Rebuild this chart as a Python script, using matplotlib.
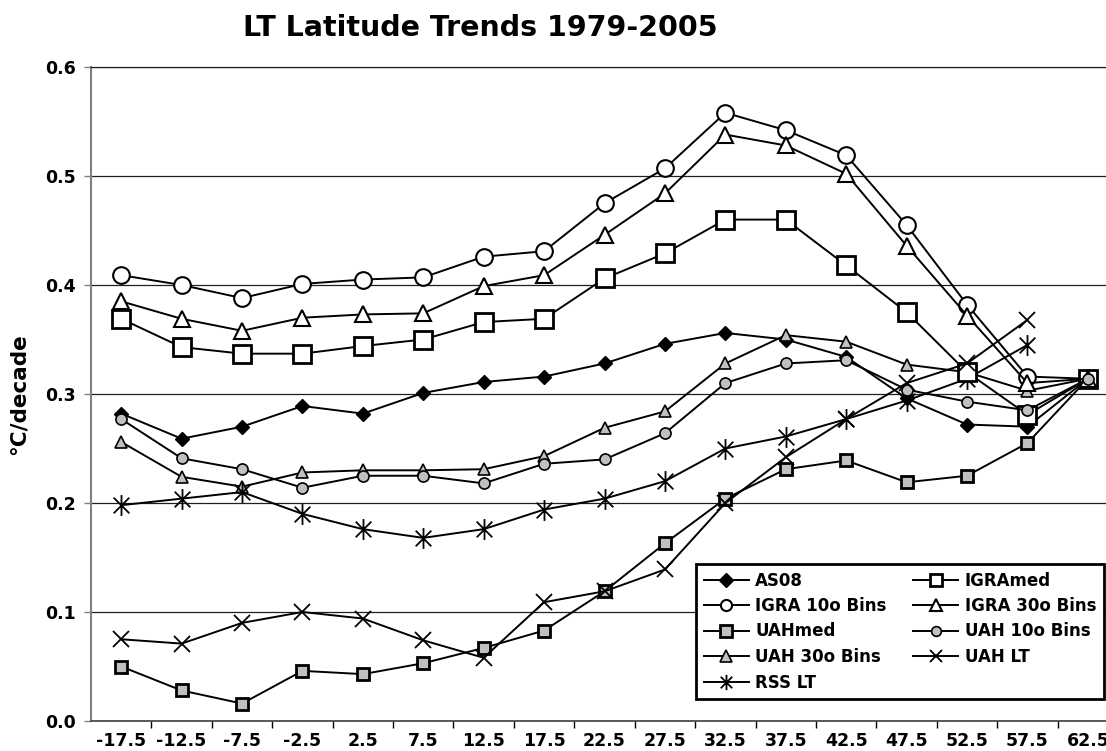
import numpy as np
import matplotlib
matplotlib.use("Agg")
import matplotlib.pyplot as plt
from matplotlib.path import Path

nan = np.nan

# latitude band centres (deg)
lat = [-17.5, -12.5, -7.5, -2.5, 2.5, 7.5, 12.5, 17.5, 22.5, 27.5,
       32.5, 37.5, 42.5, 47.5, 52.5, 57.5, 62.5]
lat_labels = ["-17.5", "-12.5", "-7.5", "-2.5", "2.5", "7.5", "12.5", "17.5", "22.5",
              "27.5", "32.5", "37.5", "42.5", "47.5", "52.5", "57.5", "62.5"]

as08 = [0.282, 0.259, 0.270, 0.289, 0.282, 0.301, 0.311, 0.316, 0.328, 0.346,
        0.356, 0.350, 0.334, 0.296, 0.272, 0.270, 0.314]
igra_med = [0.369, 0.343, 0.337, 0.337, 0.344, 0.350, 0.366, 0.369, 0.406, 0.429,
            0.460, 0.460, 0.418, 0.375, 0.320, 0.281, 0.314]
igra_10 = [0.409, 0.400, 0.388, 0.401, 0.405, 0.407, 0.426, 0.431, 0.475, 0.507,
           0.558, 0.542, 0.519, 0.455, 0.382, 0.316, 0.314]
igra_30 = [0.385, 0.369, 0.358, 0.370, 0.373, 0.374, 0.399, 0.409, 0.446, 0.484,
           0.538, 0.528, 0.502, 0.436, 0.372, 0.310, 0.314]
uah_med = [0.050, 0.028, 0.016, 0.046, 0.043, 0.053, 0.067, 0.083, 0.119, 0.163,
           0.204, 0.231, 0.239, 0.219, 0.225, 0.255, 0.314]
uah_10 = [0.277, 0.241, 0.231, 0.214, 0.225, 0.225, 0.218, 0.236, 0.240, 0.264,
          0.310, 0.328, 0.331, 0.304, 0.293, 0.285, 0.314]
uah_30 = [0.256, 0.224, 0.215, 0.228, 0.230, 0.230, 0.231, 0.243, 0.269, 0.284,
          0.328, 0.354, 0.348, 0.327, 0.320, 0.303, 0.314]
uah_lt = [0.075, 0.071, 0.090, 0.100, 0.094, 0.074, 0.058, 0.109, 0.119, 0.139,
          0.200, 0.242, 0.277, 0.310, 0.328, 0.368, nan]
rss_lt = [0.198, 0.204, 0.210, 0.190, 0.176, 0.168, 0.176, 0.194, 0.204, 0.220,
          0.250, 0.261, 0.277, 0.294, 0.314, 0.345, nan]

# excel style asterisk: vertical bar plus an X
star = Path([(0, -1), (0, 1), (-0.75, -0.75), (0.75, 0.75), (-0.75, 0.75), (0.75, -0.75)],
            [Path.MOVETO, Path.LINETO] * 3)

GRAY = "#c0c0c0"
# (label, values, plot style, legend marker size)
series = [
    ("AS08", as08, dict(marker="D", ms=7, mfc="black", mec="black"), 7),
    ("IGRA 10o Bins", igra_10, dict(marker="o", ms=12, mfc="white", mec="black", mew=1.5), 8),
    ("UAHmed", uah_med, dict(marker="s", ms=9, mfc=GRAY, mec="black", mew=2), 8),
    ("UAH 30o Bins", uah_30, dict(marker="^", ms=8, mfc=GRAY, mec="black", mew=1.2), 8),
    ("RSS LT", rss_lt, dict(marker=star, ms=15, mfc="none", mec="black", mew=1.3), 11),
    ("IGRAmed", igra_med, dict(marker="s", ms=13, mfc="white", mec="black", mew=2), 9),
    ("IGRA 30o Bins", igra_30, dict(marker="^", ms=12, mfc="white", mec="black", mew=1.5), 8),
    ("UAH 10o Bins", uah_10, dict(marker="o", ms=8, mfc=GRAY, mec="black", mew=1.2), 7),
    ("UAH LT", uah_lt, dict(marker="x", ms=12, mfc="none", mec="black", mew=1.3), 9),
]

fig = plt.figure(figsize=(11.06, 7.51), dpi=100)
ax = fig.add_axes([91 / 1106, 30 / 751, 1 - 91 / 1106, 654 / 751])

for name, vals, style, _ in series:
    ax.plot(lat, vals, color="black", lw=1.4, label=name, **style)

ax.set_xlim(-20, 64)
ax.set_ylim(0, 0.6)
ax.set_yticks(np.arange(0, 0.61, 0.1))
ax.set_yticklabels(["%.1f" % v for v in np.arange(0, 0.61, 0.1)])
ax.set_xticks(lat)
ax.set_xticklabels(lat_labels)
ax.set_xticks(np.arange(-15, 61, 5), minor=True)
ax.tick_params(axis="x", which="major", length=0, pad=8)
ax.tick_params(axis="x", which="minor", length=5, width=1, color="black", direction="out")
ax.tick_params(axis="y", length=5, width=1, color="#808080", direction="out", pad=6)
for lbl in ax.get_xticklabels() + ax.get_yticklabels():
    lbl.set_fontweight("bold")
    lbl.set_fontsize(12.5)

ax.yaxis.grid(True, color="#202020", lw=0.9)
ax.set_axisbelow(True)
ax.spines["right"].set_visible(False)
ax.spines["top"].set_color("#202020")
ax.spines["top"].set_linewidth(0.9)
ax.spines["left"].set_color("#808080")
ax.spines["left"].set_linewidth(1.5)
ax.spines["bottom"].set_color("#404040")
ax.spines["bottom"].set_linewidth(1.2)

ax.set_ylabel("°C/decade", fontsize=15.5, fontweight="bold", labelpad=12)
fig.text(0.434, 0.963, "LT Latitude Trends 1979-2005", ha="center", va="center",
         fontsize=20.5, fontweight="bold")

leg = ax.legend(ncol=2, loc="lower right", bbox_to_anchor=(1104 / 1106, 52 / 751),
                bbox_transform=fig.transFigure, borderaxespad=0, framealpha=1,
                prop=dict(size=12, weight="bold"), frameon=True, fancybox=False,
                edgecolor="black", handlelength=2.7, columnspacing=1.6,
                handletextpad=0.4, labelspacing=0.45, borderpad=0.45)
leg.get_frame().set_linewidth(2)
for h, (_, _, _, lms) in zip(leg.legend_handles, series):
    h.set_markersize(lms)

fig.savefig("out.png", dpi=100)
